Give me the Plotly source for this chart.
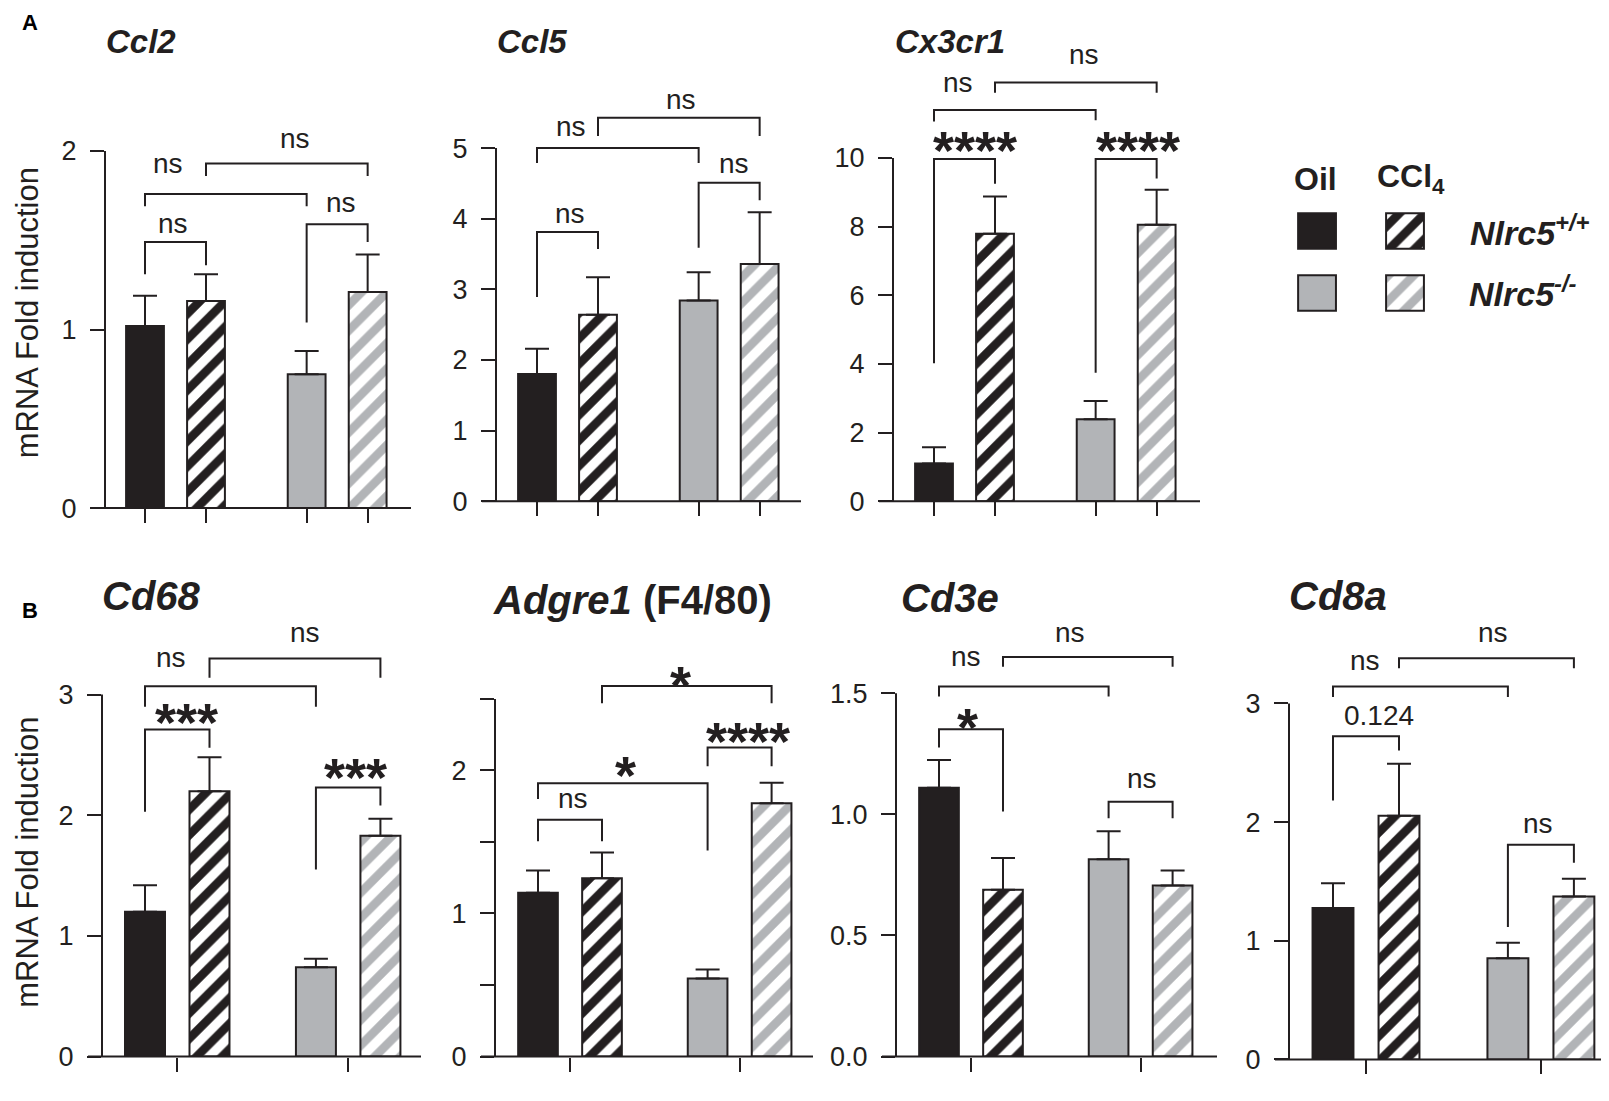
import plotly.graph_objects as go

# Fold induction (mean) and SEM, order: Oil/+/+, CCl4/+/+, Oil/-/-, CCl4/-/-
ccl2_mean = [1.02, 1.16, 0.75, 1.21]
ccl2_sem = [0.17, 0.15, 0.13, 0.21]
ccl5_mean = [1.80, 2.64, 2.84, 3.36]
ccl5_sem = [0.36, 0.53, 0.40, 0.73]
cx3cr1_mean = [1.10, 7.79, 2.39, 8.05]
cx3cr1_sem = [0.47, 1.09, 0.53, 1.02]
cd68_mean = [1.20, 2.20, 0.74, 1.83]
cd68_sem = [0.22, 0.28, 0.07, 0.14]
adgre1_mean = [1.145, 1.246, 0.545, 1.77]
adgre1_sem = [0.155, 0.18, 0.064, 0.145]
cd3e_mean = [1.109, 0.688, 0.814, 0.706]
cd3e_sem = [0.115, 0.131, 0.116, 0.062]
cd8a_mean = [1.277, 2.053, 0.853, 1.374]
cd8a_sem = [0.208, 0.44, 0.13, 0.15]

# comparisons: (bar i, bar j, label)
ccl2_sig = [(0, 1, "ns"), (2, 3, "ns"), (0, 2, "ns"), (1, 3, "ns")]
ccl5_sig = [(0, 1, "ns"), (2, 3, "ns"), (0, 2, "ns"), (1, 3, "ns")]
cx3cr1_sig = [(0, 1, "****"), (2, 3, "****"), (0, 2, "ns"), (1, 3, "ns")]
cd68_sig = [(0, 1, "***"), (2, 3, "***"), (0, 2, "ns"), (1, 3, "ns")]
adgre1_sig = [(0, 1, "ns"), (2, 3, "****"), (0, 2, "*"), (1, 3, "*")]
cd3e_sig = [(0, 1, "*"), (2, 3, "ns"), (0, 2, "ns"), (1, 3, "ns")]
cd8a_sig = [(0, 1, "0.124"), (2, 3, "ns"), (0, 2, "ns"), (1, 3, "ns")]

bar_x = [0, 1, 2.65, 3.65]
group_x = [0.5, 3.15]

W, H = 1609, 1101
INK = "#231f20"
GREY = "#b2b4b7"
FONT = "Liberation Sans, Arial, sans-serif"

fills = [INK, INK, GREY, GREY]
hatched = [False, True, False, True]

# bracket placement: (bar height, left leg end, right leg end, label x, label y)
ccl2_br = [(1.49, 1.31, 1.36, 0.46, 1.585), (1.59, 1.04, 1.49, 3.21, 1.70),
           (1.76, 1.69, 1.69, 0.38, 1.92), (1.93, 1.86, 1.86, 2.46, 2.06)]
ccl5_br = [(3.81, 2.89, 3.57, 0.54, 4.05), (4.51, 3.59, 4.26, 3.23, 4.76),
           (5.0, 4.79, 4.79, 0.56, 5.28), (5.43, 5.17, 5.17, 2.36, 5.66)]
cx3cr1_br = [(9.97, 4.02, 9.25, 0.67, 10.57), (9.97, 3.74, 9.4, 3.34, 10.57),
             (11.4, 11.06, 11.1, 0.39, 12.15), (12.2, 11.9, 11.9, 2.46, 12.96)]
cd68_br = [(2.71, 2.03, 2.56, 0.64, 2.87), (2.23, 1.55, 2.08, 3.27, 2.42),
           (3.07, 2.90, 2.90, 0.40, 3.29), (3.30, 3.14, 3.14, 2.48, 3.50)]
adgre1_br = [(1.655, 1.506, 1.506, 0.55, 1.79), (2.16, 2.03, 2.03, 3.28, 2.29),
             (1.91, 1.80, 1.44, 1.36, 2.05), (2.59, 2.47, 2.47, 2.23, 2.68)]
cd3e_br = [(1.351, 1.276, 1.011, 0.44, 1.41), (1.052, 0.984, 0.984, 3.17, 1.14),
           (1.527, 1.486, 1.486, 0.42, 1.642), (1.649, 1.609, 1.609, 2.05, 1.744)]
cd8a_br = [(2.723, 2.183, 2.604, 0.70, 2.88), (1.809, 1.116, 1.657, 3.11, 1.975),
           (3.144, 3.055, 3.055, 0.48, 3.346), (3.382, 3.296, 3.296, 2.42, 3.58)]

# panel geometry in pixels: y-axis x (L), x-axis end (R), baseline (y0), px per unit,
# first bar centre (c0), bar spacing (s), domain top
panels = [
    dict(title="<b><i>Ccl2</i></b>", tx=133, ty=34, ts=33, mean=ccl2_mean, sem=ccl2_sem,
         sig=ccl2_sig, br=ccl2_br, L=97, R=403, y0=507, pxu=181, c0=137, s=61, top=45,
         yt=[0, 1, 2], ytt=["0", "1", "2"], ym=[], xt=bar_x),
    dict(title="<b><i>Ccl5</i></b>", tx=524, ty=34, ts=33, mean=ccl5_mean, sem=ccl5_sem,
         sig=ccl5_sig, br=ccl5_br, L=488, R=793, y0=500, pxu=71.6, c0=529, s=61, top=45,
         yt=[0, 1, 2, 3, 4, 5], ytt=["0", "1", "2", "3", "4", "5"], ym=[], xt=bar_x),
    dict(title="<b><i>Cx3cr1</i></b>", tx=942, ty=34, ts=33, mean=cx3cr1_mean, sem=cx3cr1_sem,
         sig=cx3cr1_sig, br=cx3cr1_br, L=885, R=1192, y0=500, pxu=34.8, c0=926, s=61, top=45,
         yt=[0, 2, 4, 6, 8, 10], ytt=["0", "2", "4", "6", "8", "10"], ym=[], xt=bar_x),
    dict(title="<b><i>Cd68</i></b>", tx=143, ty=596, ts=40, mean=cd68_mean, sem=cd68_sem,
         sig=cd68_sig, br=cd68_br, L=94, R=413, y0=1063, pxu=122.3, c0=137, s=64.5, top=630,
         yt=[0, 1, 2, 3], ytt=["0", "1", "2", "3"], ym=[], xt=group_x),
    dict(title="<b><i>Adgre1</i> (F4/80)</b>", tx=624, ty=600, ts=40, mean=adgre1_mean, sem=adgre1_sem,
         sig=adgre1_sig, br=adgre1_br, L=487, R=805, y0=1063, pxu=145, c0=530, s=64, top=630,
         yt=[0, 1, 2], ytt=["0", "1", "2"], ym=[0.5, 1.5, 2.5], xt=group_x),
    dict(title="<b><i>Cd3e</i></b>", tx=942, ty=598, ts=40, mean=cd3e_mean, sem=cd3e_sem,
         sig=cd3e_sig, br=cd3e_br, L=888, R=1209, y0=1063, pxu=245.6, c0=931, s=64, top=630,
         yt=[0, 0.5, 1.0, 1.5], ytt=["0.0", "0.5", "1.0", "1.5"], ym=[], xt=group_x),
    dict(title="<b><i>Cd8a</i></b>", tx=1330, ty=596, ts=40, mean=cd8a_mean, sem=cd8a_sem,
         sig=cd8a_sig, br=cd8a_br, L=1281, R=1605, y0=1066, pxu=120.3, c0=1325, s=66, top=630,
         yt=[0, 1, 2, 3], ytt=["0", "1", "2", "3"], ym=[], xt=group_x),
]

TICK = 14
HATCH = dict(shape="/", fgcolor="white", size=18, solidity=0.52, fillmode="overlay", fgopacity=1)

fig = go.Figure()
annotations = []
shapes = []
layout = {}

for k, p in enumerate(panels):
    sfx = "" if k == 0 else str(k + 1)
    xa, ya = "x" + sfx, "y" + sfx

    layout["xaxis" + sfx] = dict(
        domain=[p["L"] / W, p["R"] / W],
        range=[(p["L"] - p["c0"]) / p["s"], (p["R"] - p["c0"]) / p["s"]],
        anchor=ya, tickvals=p["xt"], ticks="outside", ticklen=TICK, tickwidth=2,
        tickcolor=INK, showticklabels=False, showgrid=False, zeroline=False,
        showline=False, fixedrange=True)
    yax = dict(
        domain=[1 - p["y0"] / H, 1 - p["top"] / H],
        range=[0, (p["y0"] - p["top"]) / p["pxu"]],
        anchor=xa, tickvals=p["yt"], ticktext=p["ytt"], ticks="outside",
        ticklen=TICK, tickwidth=2, tickcolor=INK, ticklabelstandoff=8,
        tickfont=dict(size=27, color=INK, family=FONT),
        showgrid=False, zeroline=False, showline=False, fixedrange=True)
    if p["ym"]:
        yax["minor"] = dict(tickvals=p["ym"], ticks="outside", ticklen=TICK,
                            tickwidth=2, tickcolor=INK, showgrid=False)
    layout["yaxis" + sfx] = yax

    # axis lines (GraphPad style: x line starts at the tick end, y line stops at top tick)
    top_val = max(p["yt"] + p["ym"])
    ytop_px = p["y0"] - top_val * p["pxu"]
    shapes.append(dict(type="line", xref="paper", yref="paper",
                       x0=(p["L"] - TICK) / W, x1=p["R"] / W,
                       y0=1 - p["y0"] / H, y1=1 - p["y0"] / H,
                       line=dict(color=INK, width=2)))
    shapes.append(dict(type="line", xref="paper", yref="paper",
                       x0=p["L"] / W, x1=p["L"] / W,
                       y0=1 - p["y0"] / H, y1=1 - ytop_px / H,
                       line=dict(color=INK, width=2)))

    for i in range(4):
        marker = dict(color=fills[i], line=dict(color=INK, width=2))
        if hatched[i]:
            marker["pattern"] = HATCH
        fig.add_trace(go.Bar(
            x=[bar_x[i]], y=[p["mean"][i]], width=0.62, marker=marker,
            error_y=dict(type="data", symmetric=False, array=[p["sem"][i]],
                         arrayminus=[0], color=INK, thickness=2, width=12),
            xaxis=xa, yaxis=ya, showlegend=False, hoverinfo="skip"))

    for (i, j, lab), (yb, lb, rb, lx, ly) in zip(p["sig"], p["br"]):
        fig.add_trace(go.Scatter(
            x=[bar_x[i], bar_x[i], bar_x[j], bar_x[j]], y=[lb, yb, yb, rb],
            mode="lines", line=dict(color=INK, width=2),
            xaxis=xa, yaxis=ya, showlegend=False, hoverinfo="skip"))
        star = lab.startswith("*")
        annotations.append(dict(
            xref=xa, yref=ya, x=lx, y=ly, text="<b>" + lab + "</b>" if star else lab,
            showarrow=False,
            font=dict(size=54 if star else 28, color=INK, family=FONT),
            yshift=-12 if star else 2, xanchor="center", yanchor="middle"))

    annotations.append(dict(
        xref="paper", yref="paper", x=p["tx"] / W, y=1 - p["ty"] / H,
        text=p["title"], showarrow=False, xanchor="center", yanchor="middle",
        font=dict(size=p["ts"], color=INK, family=FONT)))

# legend block drawn as a tiny bar chart on a hidden subplot
leg_x = [0, 1, 0, 1]
leg_base = [1.257, 1.257, 0.057, 0.057]
leg_h = 0.686
layout["xaxis8"] = dict(domain=[1280 / W, 1430 / W], range=[-0.33, 1.375],
                        anchor="y8", visible=False, fixedrange=True)
layout["yaxis8"] = dict(domain=[1 - 310 / H, 1 - 205 / H], range=[0, 2],
                        anchor="x8", visible=False, fixedrange=True)
for i in range(4):
    marker = dict(color=fills[i], line=dict(color=INK, width=2))
    if hatched[i]:
        marker["pattern"] = HATCH
    fig.add_trace(go.Bar(x=[leg_x[i]], y=[leg_h], base=[leg_base[i]], width=0.43,
                         marker=marker, xaxis="x8", yaxis="y8",
                         showlegend=False, hoverinfo="skip"))

legend_text = [
    (1307, 173, "<b>Oil</b>", "center", 32),
    (1367, 173, "<b>CCl<sub>4</sub></b>", "left", 32),
    (1460, 226, "<b><i>Nlrc5<sup>+/+</sup></i></b>", "left", 34),
    (1459, 287, "<b><i>Nlrc5<sup>-/-</sup></i></b>", "left", 34),
]
for x, y, t, xa_, sz in legend_text:
    annotations.append(dict(xref="paper", yref="paper", x=x / W, y=1 - y / H, text=t,
                            showarrow=False, xanchor=xa_, yanchor="middle",
                            font=dict(size=sz, color=INK, family=FONT)))

for x, y, t in [(22, 15, "A"), (22, 611, "B")]:
    annotations.append(dict(xref="paper", yref="paper", x=x / W, y=1 - y / H,
                            text="<b>" + t + "</b>", showarrow=False,
                            xanchor="center", yanchor="middle",
                            font=dict(size=22, color="black", family=FONT)))

for y in [309, 866]:
    annotations.append(dict(xref="paper", yref="paper", x=0, y=1 - y / H,
                            text="mRNA Fold induction", textangle=-90, showarrow=False,
                            xanchor="left", yanchor="middle",
                            font=dict(size=31, color=INK, family=FONT)))

fig.update_layout(
    width=W, height=H, margin=dict(l=0, r=0, t=0, b=0),
    paper_bgcolor="white", plot_bgcolor="rgba(0,0,0,0)",
    barmode="overlay", font=dict(family=FONT, color=INK),
    annotations=annotations, shapes=shapes, **layout)

fig.write_html("out.html")
